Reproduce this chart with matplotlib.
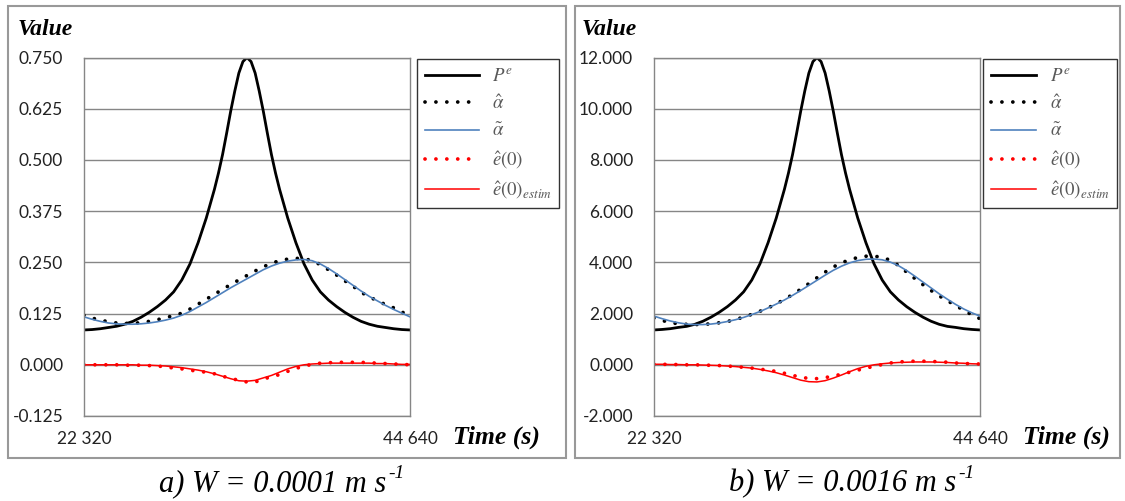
import numpy as np
import matplotlib
matplotlib.use('Agg')
import matplotlib.pyplot as plt
from matplotlib.patches import Rectangle

plt.rcParams['mathtext.fontset'] = 'stix'

# time grid (s)
t = np.arange(22320, 44641, 558)
# P^e is sampled more finely around its peak (offsets in grid steps from the centre)
pe_steps = [-20, -19, -18, -17, -16, -15, -14, -13, -12, -11, -10, -9, -8, -7, -6, -5,
            -4, -3.5, -3, -2.5, -2, -1.5, -1, -0.5, 0, 0.5, 1, 1.5, 2, 2.5, 3, 3.5, 4,
            5, 6, 7, 8, 9, 10, 11, 12, 13, 14, 15, 16, 17, 18, 19, 20]
t_pe = 33480 + 558 * np.array(pe_steps)

# panel a) W = 0.0001 m/s
pe_a = [0.085, 0.086, 0.088, 0.091, 0.094, 0.099, 0.106, 0.116, 0.128, 0.142,
        0.158, 0.178, 0.207, 0.246, 0.298, 0.358, 0.428, 0.468, 0.513, 0.565,
        0.619, 0.668, 0.712, 0.740, 0.750, 0.740, 0.712, 0.668, 0.619, 0.565,
        0.513, 0.468, 0.428, 0.358, 0.298, 0.246, 0.207, 0.178, 0.158, 0.142,
        0.128, 0.116, 0.106, 0.099, 0.094, 0.091, 0.088, 0.086, 0.085]
ahat_a = [0.121, 0.114, 0.109, 0.105, 0.102, 0.101, 0.101, 0.103, 0.106, 0.110,
          0.115, 0.120, 0.126, 0.136, 0.148, 0.160, 0.172, 0.184, 0.196, 0.207,
          0.218, 0.229, 0.239, 0.248, 0.254, 0.258, 0.260, 0.258, 0.255, 0.244,
          0.232, 0.219, 0.205, 0.192, 0.177, 0.166, 0.156, 0.147, 0.139, 0.129, 0.119]
atil_a = [0.117, 0.111, 0.106, 0.102, 0.100, 0.099, 0.099, 0.100, 0.102, 0.105,
          0.109, 0.114, 0.121, 0.130, 0.141, 0.152, 0.164, 0.176, 0.188, 0.199,
          0.210, 0.221, 0.232, 0.241, 0.248, 0.253, 0.256, 0.257, 0.254, 0.246,
          0.235, 0.222, 0.208, 0.194, 0.180, 0.167, 0.156, 0.145, 0.135, 0.126, 0.117]
ehat_a = [0.000, 0.000, 0.000, 0.000, 0.000, -0.001, -0.001, -0.001, -0.002, -0.003,
          -0.005, -0.008, -0.010, -0.013, -0.016, -0.018, -0.022, -0.028, -0.033, -0.038,
          -0.042, -0.042, -0.035, -0.029, -0.024, -0.016, -0.009, -0.003, 0.001, 0.004,
          0.005, 0.006, 0.006, 0.006, 0.006, 0.005, 0.004, 0.003, 0.002, 0.001, 0.000]
eest_a = [0.000, 0.000, 0.000, 0.000, 0.000, 0.000, 0.000, -0.001, -0.001, -0.002,
          -0.003, -0.005, -0.007, -0.010, -0.013, -0.017, -0.022, -0.028, -0.034, -0.039,
          -0.040, -0.038, -0.032, -0.026, -0.018, -0.010, -0.004, 0.000, 0.002, 0.003,
          0.004, 0.004, 0.004, 0.004, 0.004, 0.004, 0.003, 0.003, 0.002, 0.001, 0.001]

# panel b) W = 0.0016 m/s
pe_b = [1.36, 1.38, 1.41, 1.46, 1.50, 1.58, 1.70, 1.86, 2.05, 2.27,
        2.53, 2.85, 3.31, 3.94, 4.77, 5.73, 6.85, 7.49, 8.21, 9.04,
        9.90, 10.69, 11.39, 11.84, 12.00, 11.84, 11.39, 10.69, 9.90, 9.04,
        8.21, 7.49, 6.85, 5.73, 4.77, 3.94, 3.31, 2.85, 2.53, 2.27,
        2.05, 1.86, 1.70, 1.58, 1.50, 1.46, 1.41, 1.38, 1.36]
ahat_b = [1.83, 1.73, 1.65, 1.60, 1.58, 1.57, 1.58, 1.60, 1.64, 1.69,
          1.77, 1.86, 1.97, 2.09, 2.22, 2.38, 2.55, 2.74, 2.95, 3.17,
          3.40, 3.62, 3.82, 3.98, 4.10, 4.19, 4.24, 4.24, 4.20, 4.08,
          3.88, 3.62, 3.37, 3.13, 2.90, 2.69, 2.50, 2.32, 2.13, 1.95, 1.80]
atil_b = [1.90, 1.80, 1.71, 1.64, 1.59, 1.57, 1.57, 1.59, 1.63, 1.69,
          1.76, 1.85, 1.96, 2.08, 2.22, 2.37, 2.53, 2.71, 2.90, 3.10,
          3.30, 3.50, 3.69, 3.85, 3.98, 4.07, 4.12, 4.13, 4.10, 4.01,
          3.87, 3.68, 3.46, 3.23, 3.00, 2.77, 2.56, 2.36, 2.18, 2.03, 1.90]
ehat_b = [0.02, 0.02, 0.01, 0.01, 0.00, 0.00, -0.01, -0.02, -0.03, -0.05,
          -0.07, -0.10, -0.13, -0.17, -0.21, -0.26, -0.33, -0.41, -0.49, -0.53,
          -0.54, -0.50, -0.44, -0.37, -0.29, -0.21, -0.13, -0.06, 0.01, 0.07,
          0.11, 0.13, 0.14, 0.14, 0.13, 0.12, 0.10, 0.07, 0.05, 0.04, 0.03]
eest_b = [0.02, 0.02, 0.01, 0.01, 0.00, 0.00, -0.01, -0.02, -0.03, -0.05,
          -0.07, -0.10, -0.13, -0.18, -0.24, -0.31, -0.40, -0.50, -0.60, -0.66,
          -0.67, -0.62, -0.52, -0.40, -0.27, -0.15, -0.06, 0.00, 0.04, 0.07,
          0.09, 0.10, 0.11, 0.11, 0.11, 0.10, 0.09, 0.07, 0.06, 0.04, 0.03]

yticks_a = [-0.125, 0.0, 0.125, 0.25, 0.375, 0.5, 0.625, 0.75]
yticks_b = [-2.0, 0.0, 2.0, 4.0, 6.0, 8.0, 10.0, 12.0]
xticks = [22320, 44640]
xlabels = ['22 320', '44 640']
legend_labels = [r'$P^e$', r'$\hat{\alpha}$', r'$\tilde{\alpha}$',
                 r'$\hat{e}(0)$', r'$\hat{e}(0)_{estim}$']
captions = ['a) W = 0.0001 m s', 'b) W = 0.0016 m s']
cap_sup = '-1'

grey = '#868686'
dots = (0, (0.01, 2.9))


def panel(ax, pe, ahat, atil, ehat, eest, yt, legx, valx, hlen):
    ax.plot(t_pe, pe, color='black', lw=2.0, label=legend_labels[0])
    ax.plot(t, ahat, color='black', lw=2.7, ls=dots, dash_capstyle='round',
            label=legend_labels[1])
    ax.plot(t, atil, color='#4F81BD', lw=1.2, label=legend_labels[2])
    ax.plot(t, ehat, color='red', lw=2.7, ls=dots, dash_capstyle='round',
            label=legend_labels[3])
    ax.plot(t, eest, color='red', lw=1.1, label=legend_labels[4])
    ax.set_xlim(xticks[0], xticks[1])
    ax.set_ylim(yt[0], yt[-1])
    ax.set_yticks(yt)
    ax.set_yticklabels(['%.3f' % v for v in yt])
    ax.set_xticks(xticks)
    ax.set_xticklabels(xlabels)
    ax.tick_params(length=0, labelsize=12.5, colors='#222222', pad=15)
    ax.tick_params(axis='x', pad=11)
    for lab in ax.get_xticklabels() + ax.get_yticklabels():
        lab.set_fontfamily('Lato')
    ax.grid(axis='y', color=grey, lw=1.0)
    for s in ax.spines.values():
        s.set_color(grey)
        s.set_linewidth(1.0)
    ax.text(valx, 1.077, 'Value', transform=ax.transAxes, fontsize=17,
            family='Liberation Serif', weight='bold', style='italic',
            ha='left', va='center')
    ax.text(1.132, -0.058, 'Time (s)', transform=ax.transAxes, fontsize=18.5,
            family='Liberation Serif', weight='bold', style='italic',
            ha='left', va='center')
    leg = ax.legend(loc='upper left', bbox_to_anchor=(legx, 1 - 59 / 501),
                    bbox_transform=fig.transFigure, fontsize=13.5,
                    handlelength=hlen, labelspacing=0.45, borderpad=0.4,
                    handletextpad=0.7, borderaxespad=0, fancybox=False,
                    labelcolor='#595959')
    leg.get_frame().set_edgecolor('black')
    leg.get_frame().set_linewidth(1.0)


fig = plt.figure(figsize=(11.25, 5.01), dpi=100)
ax1 = fig.add_axes([84 / 1125, 85 / 501, 326 / 1125, 358.5 / 501])
ax2 = fig.add_axes([654 / 1125, 85 / 501, 326 / 1125, 358.5 / 501])

panel(ax1, pe_a, ahat_a, atil_a, ehat_a, eest_a, yticks_a, 417 / 1125, -0.205, 2.9)
panel(ax2, pe_b, ahat_b, atil_b, ehat_b, eest_b, yticks_b, 983 / 1125, -0.221, 2.45)

# panel frames
for x0, x1 in [(8, 566), (575, 1120)]:
    fig.patches.append(Rectangle((x0 / 1125, 1 - 458 / 501), (x1 - x0) / 1125,
                                 (458 - 6) / 501, transform=fig.transFigure,
                                 fill=False, edgecolor='#999999', lw=1.5))

# captions: main italic text plus a raised "-1"
renderer = fig.canvas.get_renderer()
for cx, cap in zip([282, 852], captions):
    main = fig.text(0, 0, cap, fontsize=22, family='Liberation Serif',
                    style='italic', ha='left', va='baseline')
    sup = fig.text(0, 0, cap_sup, fontsize=14, family='Liberation Serif',
                   style='italic', ha='left', va='baseline')
    w_main = main.get_window_extent(renderer).width
    w_sup = sup.get_window_extent(renderer).width
    x0 = cx - (w_main + w_sup + 2) / 2
    main.set_position((x0 / 1125, 1 - 491 / 501))
    sup.set_position(((x0 + w_main + 2) / 1125, 1 - 478 / 501))

fig.savefig('out.png', dpi=100)
